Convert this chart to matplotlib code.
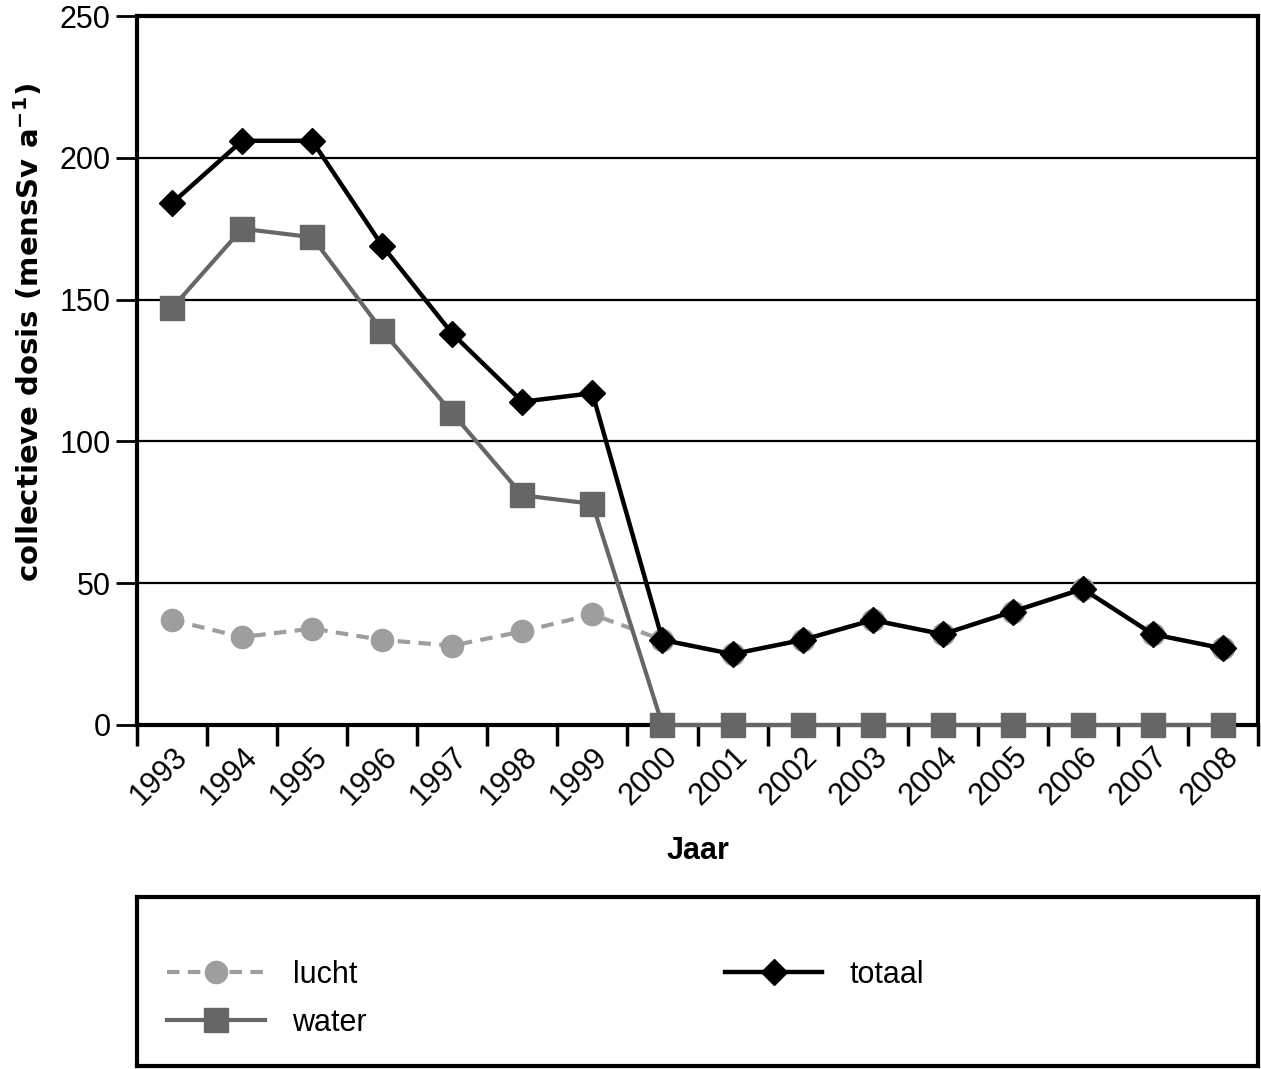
import numpy as np
import matplotlib
matplotlib.use('Agg')
import matplotlib.pyplot as plt

plt.rcParams['font.family'] = ['Liberation Sans', 'DejaVu Sans']

# Data
years = ['1993', '1994', '1995', '1996', '1997', '1998', '1999', '2000',
         '2001', '2002', '2003', '2004', '2005', '2006', '2007', '2008']
lucht = [37, 31, 34, 30, 28, 33, 39, 30, 25, 30, 37, 32, 40, 48, 32, 27]
water = [147, 175, 172, 139, 110, 81, 78, 0, 0, 0, 0, 0, 0, 0, 0, 0]
totaal = [184, 206, 206, 169, 138, 114, 117, 30, 25, 30, 37, 32, 40, 48, 32, 27]
yticks = [0, 50, 100, 150, 200, 250]

W, H = 1261, 1069
fig = plt.figure(figsize=(W / 100, H / 100), dpi=100)
ax = fig.add_axes([137 / W, 1 - 725 / H, (1258 - 137) / W, (725 - 16) / H])

x = np.arange(len(years))
l1, = ax.plot(x, lucht, color='#9e9e9e', lw=3, ls=(0, (3, 2)), marker='o',
              markersize=16, label='lucht', zorder=3, clip_on=False)
l2, = ax.plot(x, water, color='#666666', lw=3, marker='s', markersize=17,
              label='water', zorder=4, clip_on=False)
l3, = ax.plot(x, totaal, color='black', lw=3.2, marker='D', markersize=13,
              label='totaal', zorder=5, clip_on=False)

ax.set_xlim(-0.5, len(years) - 0.5)
ax.set_ylim(0, 250)
ax.set_yticks(yticks)
ax.set_yticklabels([str(v) for v in yticks], fontsize=22)
ax.set_xticks(x)
ax.set_xticklabels(years, rotation=45, ha='right', rotation_mode='anchor',
                   fontsize=22)
ax.set_xticks(np.arange(-0.5, len(years)), minor=True)
ax.tick_params(axis='x', which='major', length=0, pad=12)
ax.tick_params(axis='x', which='minor', length=15, width=2.5, direction='out')
ax.tick_params(axis='y', length=15, width=2, direction='out', pad=4)
ax.yaxis.grid(True, color='black', lw=1.6)
ax.set_axisbelow(True)
for s in ax.spines.values():
    s.set_linewidth(3)
ax.set_xlabel('Jaar', fontsize=22, fontweight='bold', labelpad=18)
ax.set_ylabel('collectieve dosis (mensSv a$^{\\mathbf{-1}}$)', fontsize=21,
              fontweight='bold', family='DejaVu Sans')
ax.yaxis.set_label_coords(-0.082, 0.554)

# Legend box
lax = fig.add_axes([137 / W, 1 - 1066 / H, (1258 - 137) / W, (1066 - 897) / H])
lax.set_xticks([])
lax.set_yticks([])
for s in lax.spines.values():
    s.set_linewidth(3)
leg = lax.legend(handles=[l1, l2, l3], ncol=2, loc='upper left',
                 bbox_to_anchor=(0.027, 0.63), frameon=False, fontsize=22,
                 borderpad=0, borderaxespad=0, handlelength=3.2,
                 columnspacing=11.7, labelspacing=0.6, handletextpad=0.9)

fig.savefig('out.png', dpi=100)
